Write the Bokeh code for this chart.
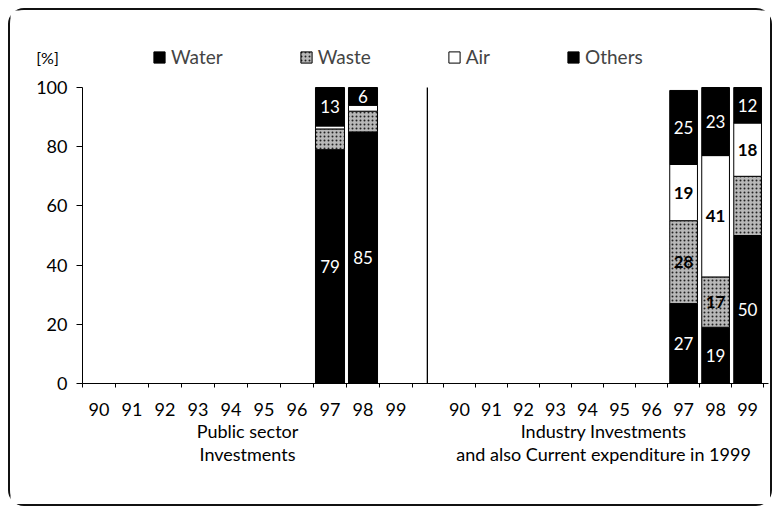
from bokeh.plotting import figure
from bokeh.models import (Range1d, FixedTicker, Legend, LegendItem, Label,
                          ColumnDataSource, LinearAxis)
from bokeh.core.properties import value
from bokeh.embed import file_html
from bokeh.resources import INLINE
import numpy as np

# ---------------- data ----------------
years = ["90", "91", "92", "93", "94", "95", "96", "97", "98", "99"]
series = ["Water", "Waste", "Air", "Others"]

public_years = ["97", "98"]
public_water = [79, 85]
public_waste = [7, 7]
public_air = [1, 2]
public_others = [13, 6]
public_labels = {"Water": ["79", "85"], "Waste": ["", ""], "Air": ["", ""], "Others": ["13", "6"]}

industry_years = ["97", "98", "99"]
industry_water = [27, 19, 50]
industry_waste = [28, 17, 20]
industry_air = [19, 41, 18]
industry_others = [25, 23, 12]
industry_labels = {"Water": ["27", "19", "50"], "Waste": ["28", "17", ""],
                   "Air": ["19", "41", "18"], "Others": ["25", "23", "12"]}

y_ticks = [0, 20, 40, 60, 80, 100]
group_titles = [["Public sector", "Investments"],
                ["Industry Investments", "and also Current expenditure in 1999"]]
unit_label = "[%]"

# ---------------- layout helpers ----------------
FONT = "Lato"
G_START = [0.0, 10.94]
G_WIDTH = [1.0, 0.97]
BAR_W = [0.88, 0.84]
SEP = 10.45

W, H = 764, 498
PX_X = 33.0          # pixels per x unit
PX_Y = 2.96          # pixels per y unit
ORIG_X, ORIG_Y = 72.0, 373.0   # canvas pixel position of (0, 0)

def xpos(g, yr):
    return G_START[g] + (years.index(yr) + 0.5) * G_WIDTH[g]

def dx(px):
    return (px - ORIG_X) / PX_X

def dy(py):
    return (ORIG_Y - py) / PX_Y

styles = {
    "Water": dict(fill_color="black", line_color="black"),
    "Waste": dict(fill_color="#b8b8b8", line_color="black", hatch_pattern="dot",
                  hatch_color="#222222", hatch_scale=4, hatch_weight=1.3),
    "Air": dict(fill_color="white", line_color="black"),
    "Others": dict(fill_color="black", line_color="black"),
}
text_colors = {"Water": "white", "Waste": "black", "Air": "black", "Others": "white"}

p = figure(width=W, height=H, output_backend="svg", toolbar_location=None,
           x_range=Range1d(dx(0), dx(W)), y_range=Range1d(dy(H), dy(0)),
           x_axis_location=None, y_axis_location=None,
           min_border_left=0, min_border_right=0, min_border_top=0, min_border_bottom=0)
p.styles = {"border": "2.5px solid #111111", "border-radius": "16px",
            "box-sizing": "border-box", "margin": "8px 0 0 8px"}
p.outline_line_color = None
p.xgrid.visible = False
p.ygrid.visible = False
p.background_fill_color = "white"
p.border_fill_color = "white"

groups = [
    (0, public_years, {"Water": public_water, "Waste": public_waste, "Air": public_air, "Others": public_others}, public_labels),
    (1, industry_years, {"Water": industry_water, "Waste": industry_waste, "Air": industry_air, "Others": industry_others}, industry_labels),
]

legend_renderers = {}
lab_white = dict(x=[], y=[], text=[])
lab_black = dict(x=[], y=[], text=[])
for g, yrs, vals, labels in groups:
    xs = [xpos(g, y) for y in yrs]
    bottom = np.zeros(len(yrs))
    for s in series:
        top = bottom + np.array(vals[s], dtype=float)
        src = ColumnDataSource(dict(x=xs, bottom=bottom.tolist(), top=top.tolist()))
        r = p.vbar(x="x", bottom="bottom", top="top", width=BAR_W[g], source=src,
                   line_width=1, **styles[s])
        legend_renderers.setdefault(s, r)
        target = lab_white if text_colors[s] == "white" else lab_black
        for xi, b, t, txt in zip(xs, bottom, top, labels[s]):
            if txt:
                target["x"].append(xi)
                target["y"].append((b + t) / 2)
                target["text"].append(txt)
        bottom = top

p.text(x="x", y="y", text="text", source=ColumnDataSource(lab_white),
       text_color="white", text_align="center", text_baseline="middle",
       text_font=value(FONT), text_font_size="17px")
p.text(x="x", y="y", text="text", source=ColumnDataSource(lab_black),
       text_color="black", text_align="center", text_baseline="middle",
       text_font=value(FONT), text_font_size="17px", text_font_style="bold")

# separator between the two groups (full axis height)
p.segment(x0=[SEP], y0=[y_ticks[0]], x1=[SEP], y1=[y_ticks[-1]],
          line_color="black", line_width=1.3)

# axes (fixed inside the frame so that every text stays on the canvas)
centers = [xpos(g, y) for g in (0, 1) for y in years]
edges = [G_START[g] + k * G_WIDTH[g] for g in (0, 1) for k in range(0, 11)]
overrides = {xpos(g, y): y for g in (0, 1) for y in years}
xa = LinearAxis(fixed_location=0, bounds=(0, dx(758)))
xa.ticker = FixedTicker(ticks=centers, minor_ticks=edges)
xa.major_label_overrides = overrides
xa.major_tick_out = 0
xa.major_tick_in = 0
xa.minor_tick_out = 4
xa.minor_tick_in = 0
xa.major_label_standoff = 15
xa.major_label_text_font = FONT
xa.major_label_text_font_size = "18px"
xa.major_label_text_color = "black"
xa.axis_line_color = "black"
p.add_layout(xa, "below")

ya = LinearAxis(fixed_location=0, bounds=(0, 100))
ya.ticker = FixedTicker(ticks=y_ticks)
ya.major_tick_out = 6
ya.major_tick_in = 0
ya.minor_tick_line_color = None
ya.major_label_standoff = 9
ya.major_label_text_font = FONT
ya.major_label_text_font_size = "18px"
ya.major_label_text_color = "black"
ya.axis_line_color = "black"
p.add_layout(ya, "left")

# group titles
title_rows = [420, 443]
for g, lines in enumerate(group_titles):
    cx = G_START[g] + 5 * G_WIDTH[g]
    for i, line in enumerate(lines):
        p.add_layout(Label(x=cx, y=dy(title_rows[i]), text=line, text_align="center",
                           text_baseline="middle", text_font=FONT,
                           text_font_size="18px", text_color="black"))

# unit label
p.add_layout(Label(x=dx(37), y=dy(47), text=unit_label, text_align="center",
                   text_baseline="middle", text_font=FONT, text_font_size="16px",
                   text_color="black"))

# legend
items = [LegendItem(label=s, renderers=[legend_renderers[s]]) for s in series]
legend = Legend(items=items, orientation="horizontal", location=(142, H - 58),
                spacing=76, glyph_width=14, glyph_height=14, label_standoff=5,
                label_text_font=FONT, label_text_font_size="19px",
                border_line_alpha=0, background_fill_alpha=0, padding=0, margin=0)
p.add_layout(legend)

open("out.html", "w").write(file_html(p, INLINE))
